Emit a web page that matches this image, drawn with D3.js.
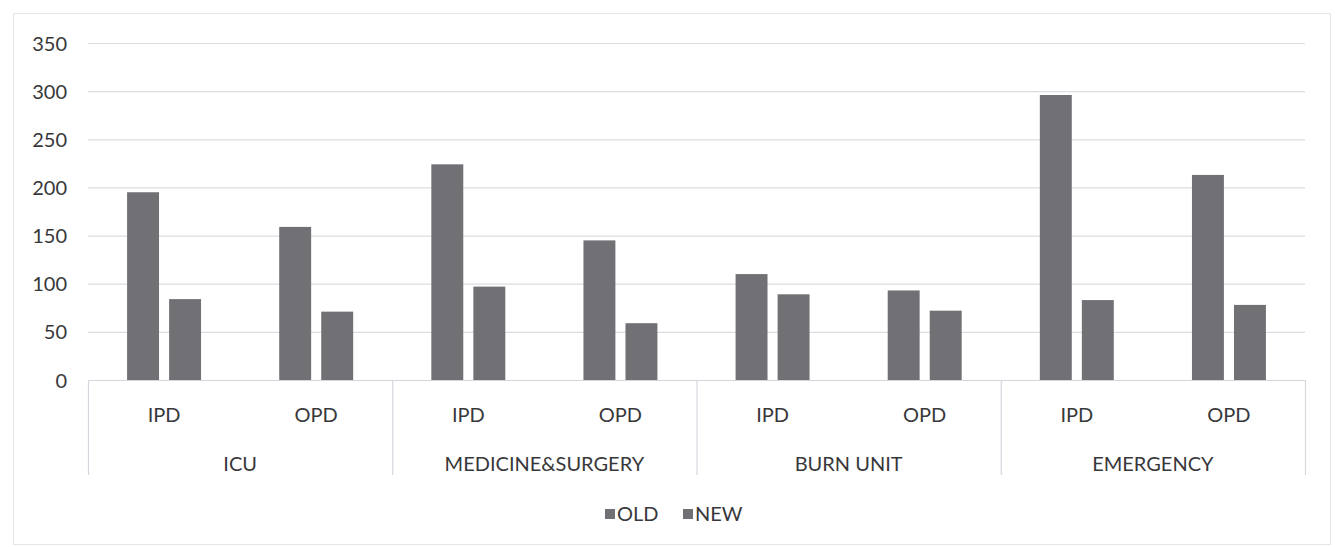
<!DOCTYPE html>
<html>
<head>
<meta charset="utf-8">
<script src="https://cdn.jsdelivr.net/npm/d3@7"></script>
<style>
  html, body { margin: 0; padding: 0; background: #fff; }
  svg { display: block; }
  text { font-family: Lato, "Open Sans", sans-serif; fill: #38383b; }
</style>
</head>
<body>
<svg id="chart" width="1335" height="547"></svg>
<script>
// chart data
const groups = ['ICU', 'MEDICINE&SURGERY', 'BURN UNIT', 'EMERGENCY'];
const subs = ['IPD', 'OPD'];
const seriesNames = ['OLD', 'NEW'];
// values in order ICU IPD, ICU OPD, MED IPD, MED OPD, BURN IPD, BURN OPD, EMER IPD, EMER OPD
const oldValues = [195, 159, 224, 145, 110, 93, 296, 213];
const newValues = [84, 71, 97, 59, 89, 72, 83, 78];
const yTicks = [0, 50, 100, 150, 200, 250, 300, 350];

const width = 1335, height = 547;
const margin = { top: 43, right: 30, bottom: 167, left: 88 };
const plotW = width - margin.left - margin.right;
const plotH = height - margin.top - margin.bottom;

const barColor = '#717075';
const gridColor = '#dcdce3';

const svg = d3.select('#chart');

// chart frame
svg.append('rect')
    .attr('x', 13.5).attr('y', 13.5)
    .attr('width', 1317).attr('height', 531)
    .attr('fill', 'none')
    .attr('stroke', '#e6e6ea');

const g = svg.append('g')
    .attr('transform', `translate(${margin.left},${margin.top})`);

// flat category list, one per bar pair
const cats = [];
groups.forEach(gr => subs.forEach(s => cats.push(gr + '|' + s)));

const x = d3.scaleBand()
    .domain(cats)
    .range([0, plotW]);

const xGroup = d3.scaleBand()
    .domain(groups)
    .range([0, plotW]);

const xInner = d3.scaleBand()
    .domain(seriesNames)
    .range([0, x.bandwidth()])
    .paddingInner(0.24)
    .paddingOuter(0.93);

const y = d3.scaleLinear()
    .domain([0, 350])
    .range([plotH, 0]);

// gridlines
g.append('g')
    .selectAll('line')
    .data(yTicks)
    .join('line')
    .attr('x1', 0)
    .attr('x2', plotW)
    .attr('y1', d => y(d) + 0.5)
    .attr('y2', d => y(d) + 0.5)
    .attr('stroke', gridColor)
    .attr('stroke-width', 1.2);

// y axis labels
const yAxis = g.append('g')
    .call(d3.axisLeft(y).tickValues(yTicks).tickSize(0).tickPadding(21));
yAxis.select('.domain').remove();
yAxis.selectAll('text')
    .style('font-size', '20px')
    .attr('dy', '0.35em')
    .attr('fill', '#38383b');

// bars
const rows = cats.map((c, i) => ({ cat: c, OLD: oldValues[i], NEW: newValues[i] }));

const catG = g.append('g')
    .selectAll('g')
    .data(rows)
    .join('g')
    .attr('transform', d => `translate(${x(d.cat)},0)`);

catG.selectAll('rect')
    .data(d => seriesNames.map(k => ({ key: k, value: d[k] })))
    .join('rect')
    .attr('x', d => xInner(d.key))
    .attr('width', xInner.bandwidth())
    .attr('y', d => y(d.value))
    .attr('height', d => plotH - y(d.value))
    .attr('fill', barColor);

// category axis: baseline and group separators
const axisG = g.append('g').attr('transform', `translate(0,${plotH})`);

axisG.append('line')
    .attr('x1', 0).attr('x2', plotW)
    .attr('y1', 0.5).attr('y2', 0.5)
    .attr('stroke', '#d6d6de')
    .attr('stroke-width', 1.2);

const sepX = groups.map(gr => xGroup(gr)).concat([plotW]);
axisG.selectAll('.sep')
    .data(sepX)
    .join('line')
    .attr('class', 'sep')
    .attr('x1', d => d + 0.5).attr('x2', d => d + 0.5)
    .attr('y1', 0).attr('y2', 95)
    .attr('stroke', '#d6d6de')
    .attr('stroke-width', 1.2);

axisG.selectAll('.sub')
    .data(cats)
    .join('text')
    .attr('class', 'sub')
    .attr('x', d => x(d) + x.bandwidth() / 2)
    .attr('y', 42)
    .attr('text-anchor', 'middle')
    .style('font-size', '20px')
    .text(d => d.split('|')[1]);

axisG.selectAll('.grp')
    .data(groups)
    .join('text')
    .attr('class', 'grp')
    .attr('x', d => xGroup(d) + xGroup.bandwidth() / 2)
    .attr('y', 91)
    .attr('text-anchor', 'middle')
    .style('font-size', '20px')
    .text(d => d);

// legend
const legend = svg.append('g')
    .attr('transform', 'translate(605,521)');
const legendX = [0, 78];
const items = legend.selectAll('g')
    .data(seriesNames)
    .join('g')
    .attr('transform', (d, i) => `translate(${legendX[i]},0)`);
items.append('rect')
    .attr('x', 0).attr('y', -12)
    .attr('width', 10).attr('height', 10)
    .attr('fill', barColor);
items.append('text')
    .attr('x', 12)
    .attr('y', 0)
    .style('font-size', '20px')
    .text(d => d);
</script>
</body>
</html>
